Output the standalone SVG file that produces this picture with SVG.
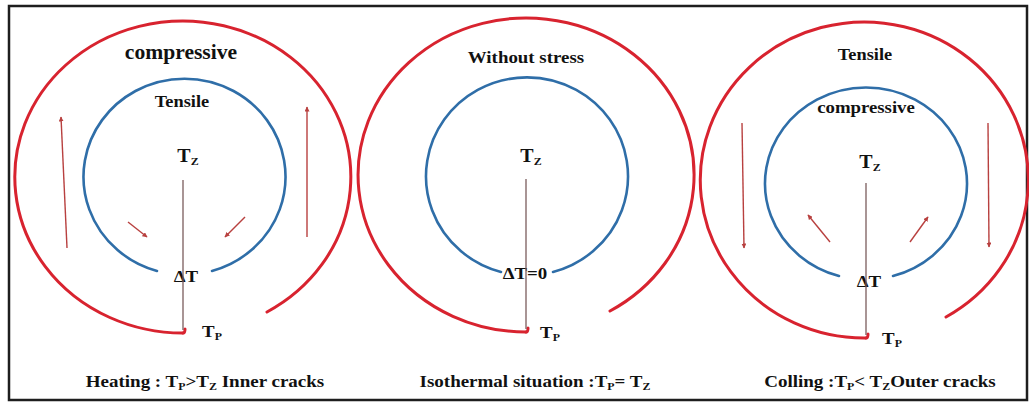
<svg xmlns="http://www.w3.org/2000/svg" width="1029" height="407" viewBox="0 0 1029 407">
<style>
.frame{fill:#fff;stroke:#1e1e1e;stroke-width:2.5}
.red{fill:none;stroke:#d8232f;stroke-width:3;stroke-linecap:round}
.blue{fill:none;stroke:#2f6ea8;stroke-width:2.6;stroke-linecap:round}
.axis{fill:none;stroke:#7a5c5c;stroke-width:1.3}
.arr{fill:none;stroke:#b8403f;stroke-width:1.4}
text{font-family:"Liberation Serif","Times New Roman",serif;font-weight:bold;fill:#111;text-anchor:middle;transform-box:fill-box;transform-origin:center;transform:scaleX(1.08)}
.sub{font-size:11px}
.lbl{font-size:17.6px}
</style>
<defs>
<marker id="ah" markerUnits="userSpaceOnUse" markerWidth="6" markerHeight="5" refX="4.5" refY="2.5" orient="auto">
<path d="M0,0 L5,2.5 L0,5 z" fill="#b8403f"/>
</marker>
</defs>
<rect class="frame" x="9" y="6" width="1018" height="394"/>
<g id="heating">
<path class="red" d="M183,333 A168,156 0 1 1 267,312"/>
<path class="red" d="M183,333 Q185,333 185,329"/>
<path class="blue" d="M157,271 A101,98 0 1 1 212,271"/>
<text x="181" y="59" font-size="20">compressive</text>
<text x="182" y="107" font-size="17">Tensile</text>
<text x="188" y="162" font-size="18.5">T<tspan class="sub" dy="3">Z</tspan></text>
<text x="186" y="282" font-size="17.5">ΔT</text>
<text x="212" y="337" font-size="17.5">T<tspan class="sub" dy="3">P</tspan></text>
<text class="lbl" x="205" y="387">Heating : T<tspan class="sub" dy="3">P</tspan><tspan dy="-3">&gt;T</tspan><tspan class="sub" dy="3">Z</tspan><tspan dy="-3"> Inner cracks</tspan></text>
</g>
<g id="isothermal">
<path class="red" d="M526,332 A168,157 0 1 1 610,311"/>
<path class="red" d="M526,332 Q528,332 528,328"/>
<path class="blue" d="M501,272 A101,99 0 1 1 553,272"/>
<text x="526" y="63" font-size="17.5">Without stress</text>
<text x="531" y="162" font-size="18.5">T<tspan class="sub" dy="3">Z</tspan></text>
<text x="525" y="279" font-size="17.5">ΔT=0</text>
<text x="550" y="338" font-size="17.5">T<tspan class="sub" dy="3">P</tspan></text>
<text class="lbl" x="535" y="387">Isothermal situation :T<tspan class="sub" dy="3">P</tspan><tspan dy="-3">= T</tspan><tspan class="sub" dy="3">Z</tspan></text>
</g>
<g id="cooling">
<path class="red" d="M866,338 A164,158 0 1 1 946,317"/>
<path class="red" d="M866,338 Q868,338 868,334"/>
<path class="blue" d="M839,276 A101,96 0 1 1 893,276"/>
<text x="865" y="60" font-size="17">Tensile</text>
<text x="866" y="113" font-size="17.4">compressive</text>
<text x="870" y="168" font-size="18.5">T<tspan class="sub" dy="3">Z</tspan></text>
<text x="869" y="287" font-size="17.5">ΔT</text>
<text x="892" y="344" font-size="17.5">T<tspan class="sub" dy="3">P</tspan></text>
<text class="lbl" x="880" y="387">Colling :T<tspan class="sub" dy="3">P</tspan><tspan dy="-3">&lt; T</tspan><tspan class="sub" dy="3">Z</tspan><tspan dy="-3">Outer cracks</tspan></text>
</g>
<g id="connectors">
<line class="axis" x1="183" y1="180" x2="183" y2="330"/>
<line class="axis" x1="526" y1="179" x2="526" y2="329"/>
<line class="axis" x1="866" y1="183" x2="866" y2="335"/>
<line class="arr" marker-end="url(#ah)" x1="67" y1="248" x2="61" y2="117"/>
<line class="arr" marker-end="url(#ah)" x1="307" y1="237" x2="307" y2="107"/>
<line class="arr" marker-end="url(#ah)" x1="128" y1="222" x2="147" y2="237"/>
<line class="arr" marker-end="url(#ah)" x1="245" y1="217" x2="225" y2="237"/>
<line class="arr" marker-end="url(#ah)" x1="742" y1="123" x2="744" y2="248"/>
<line class="arr" marker-end="url(#ah)" x1="988" y1="123" x2="989" y2="247"/>
<line class="arr" marker-end="url(#ah)" x1="830" y1="242" x2="808" y2="215"/>
<line class="arr" marker-end="url(#ah)" x1="910" y1="242" x2="928" y2="217"/>
</g>
</svg>
